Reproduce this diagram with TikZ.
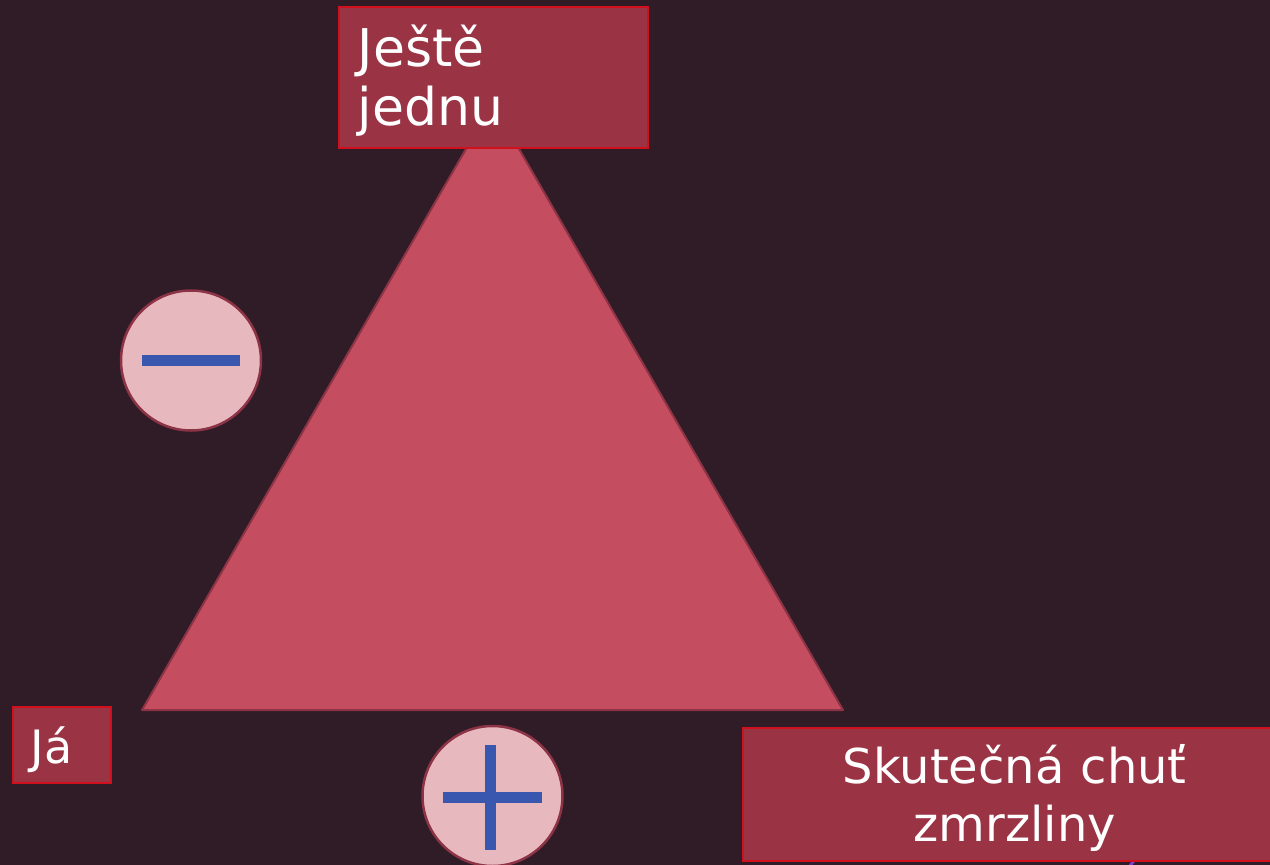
\documentclass[tikz,border=0pt]{standalone}
\usepackage{fontspec}
\setmainfont{DejaVu Sans}
\usetikzlibrary{positioning}
\definecolor{bgplum}{HTML}{2F1C27}
\definecolor{boxfill}{HTML}{9A3344}
\definecolor{boxline}{HTML}{D0101C}
\definecolor{trifill}{HTML}{C44E5F}
\definecolor{triline}{HTML}{8C3346}
\definecolor{signfill}{HTML}{E8B8BF}
\definecolor{signbar}{HTML}{3A57B0}
\definecolor{linkviolet}{HTML}{7E3FC8}

\begin{document}
\begin{tikzpicture}[
    x=1pt, y=-1pt,
    box/.style={draw=boxline, line width=1.5pt, fill=boxfill, text=white, anchor=north west, inner ysep=0pt, font=\fontsize{46}{50}\selectfont},
    sign/.style={circle, draw=triline, line width=2.5pt, fill=signfill, minimum size=140pt, inner sep=0pt},
    bar/.style={signbar, line width=11pt}
]
\fill[bgplum] (0,0) rectangle (1270,865);
\clip (0,0) rectangle (1270,865);

% triangle
\coordinate (apex) at (492.5,103);
\coordinate (lcorner) at (142,710);
\coordinate (rcorner) at (843,710);
\draw[triline, line width=2pt, fill=trifill, line join=round] (apex) -- (lcorner) -- (rcorner) -- cycle;

% signs
\node[sign] (minus) at (191,360.5) {};
\draw[bar] ([xshift=-49pt]minus.center) -- ([xshift=49pt]minus.center);
\node[sign] (plus) at (492.5,796) {};
\draw[bar] ([xshift=-49.5pt,yshift=-1pt]plus.center) -- ([xshift=49.5pt,yshift=-1pt]plus.center);
\draw[bar] ([xshift=-2pt,yshift=51pt]plus.center) -- ([xshift=-2pt,yshift=-54pt]plus.center);

% link running into the flavour box
\coordinate (linktail) at (1120,878);
\coordinate (linkhead) at (1146,846);
\draw[linkviolet, line width=3pt] (linktail) -- (linkhead);

% labels
\node[box, align=left, text width=271pt, inner xsep=19pt, text height=60pt, text depth=81pt, font=\fontsize{52}{59}\selectfont] (jeste) at (338,6) {Ještě\\jednu};
\node[box, align=left, text width=62pt, inner xsep=18pt, text height=57pt, text depth=19pt] (ja) at (12,706) {Já};
\node[box, align=center, text width=504pt, inner xsep=20pt, text height=56pt, text depth=77pt, font=\fontsize{48}{58}\selectfont] (chut) at (742,727) {Skutečná chuť\\zmrzliny};
\end{tikzpicture}
\end{document}
